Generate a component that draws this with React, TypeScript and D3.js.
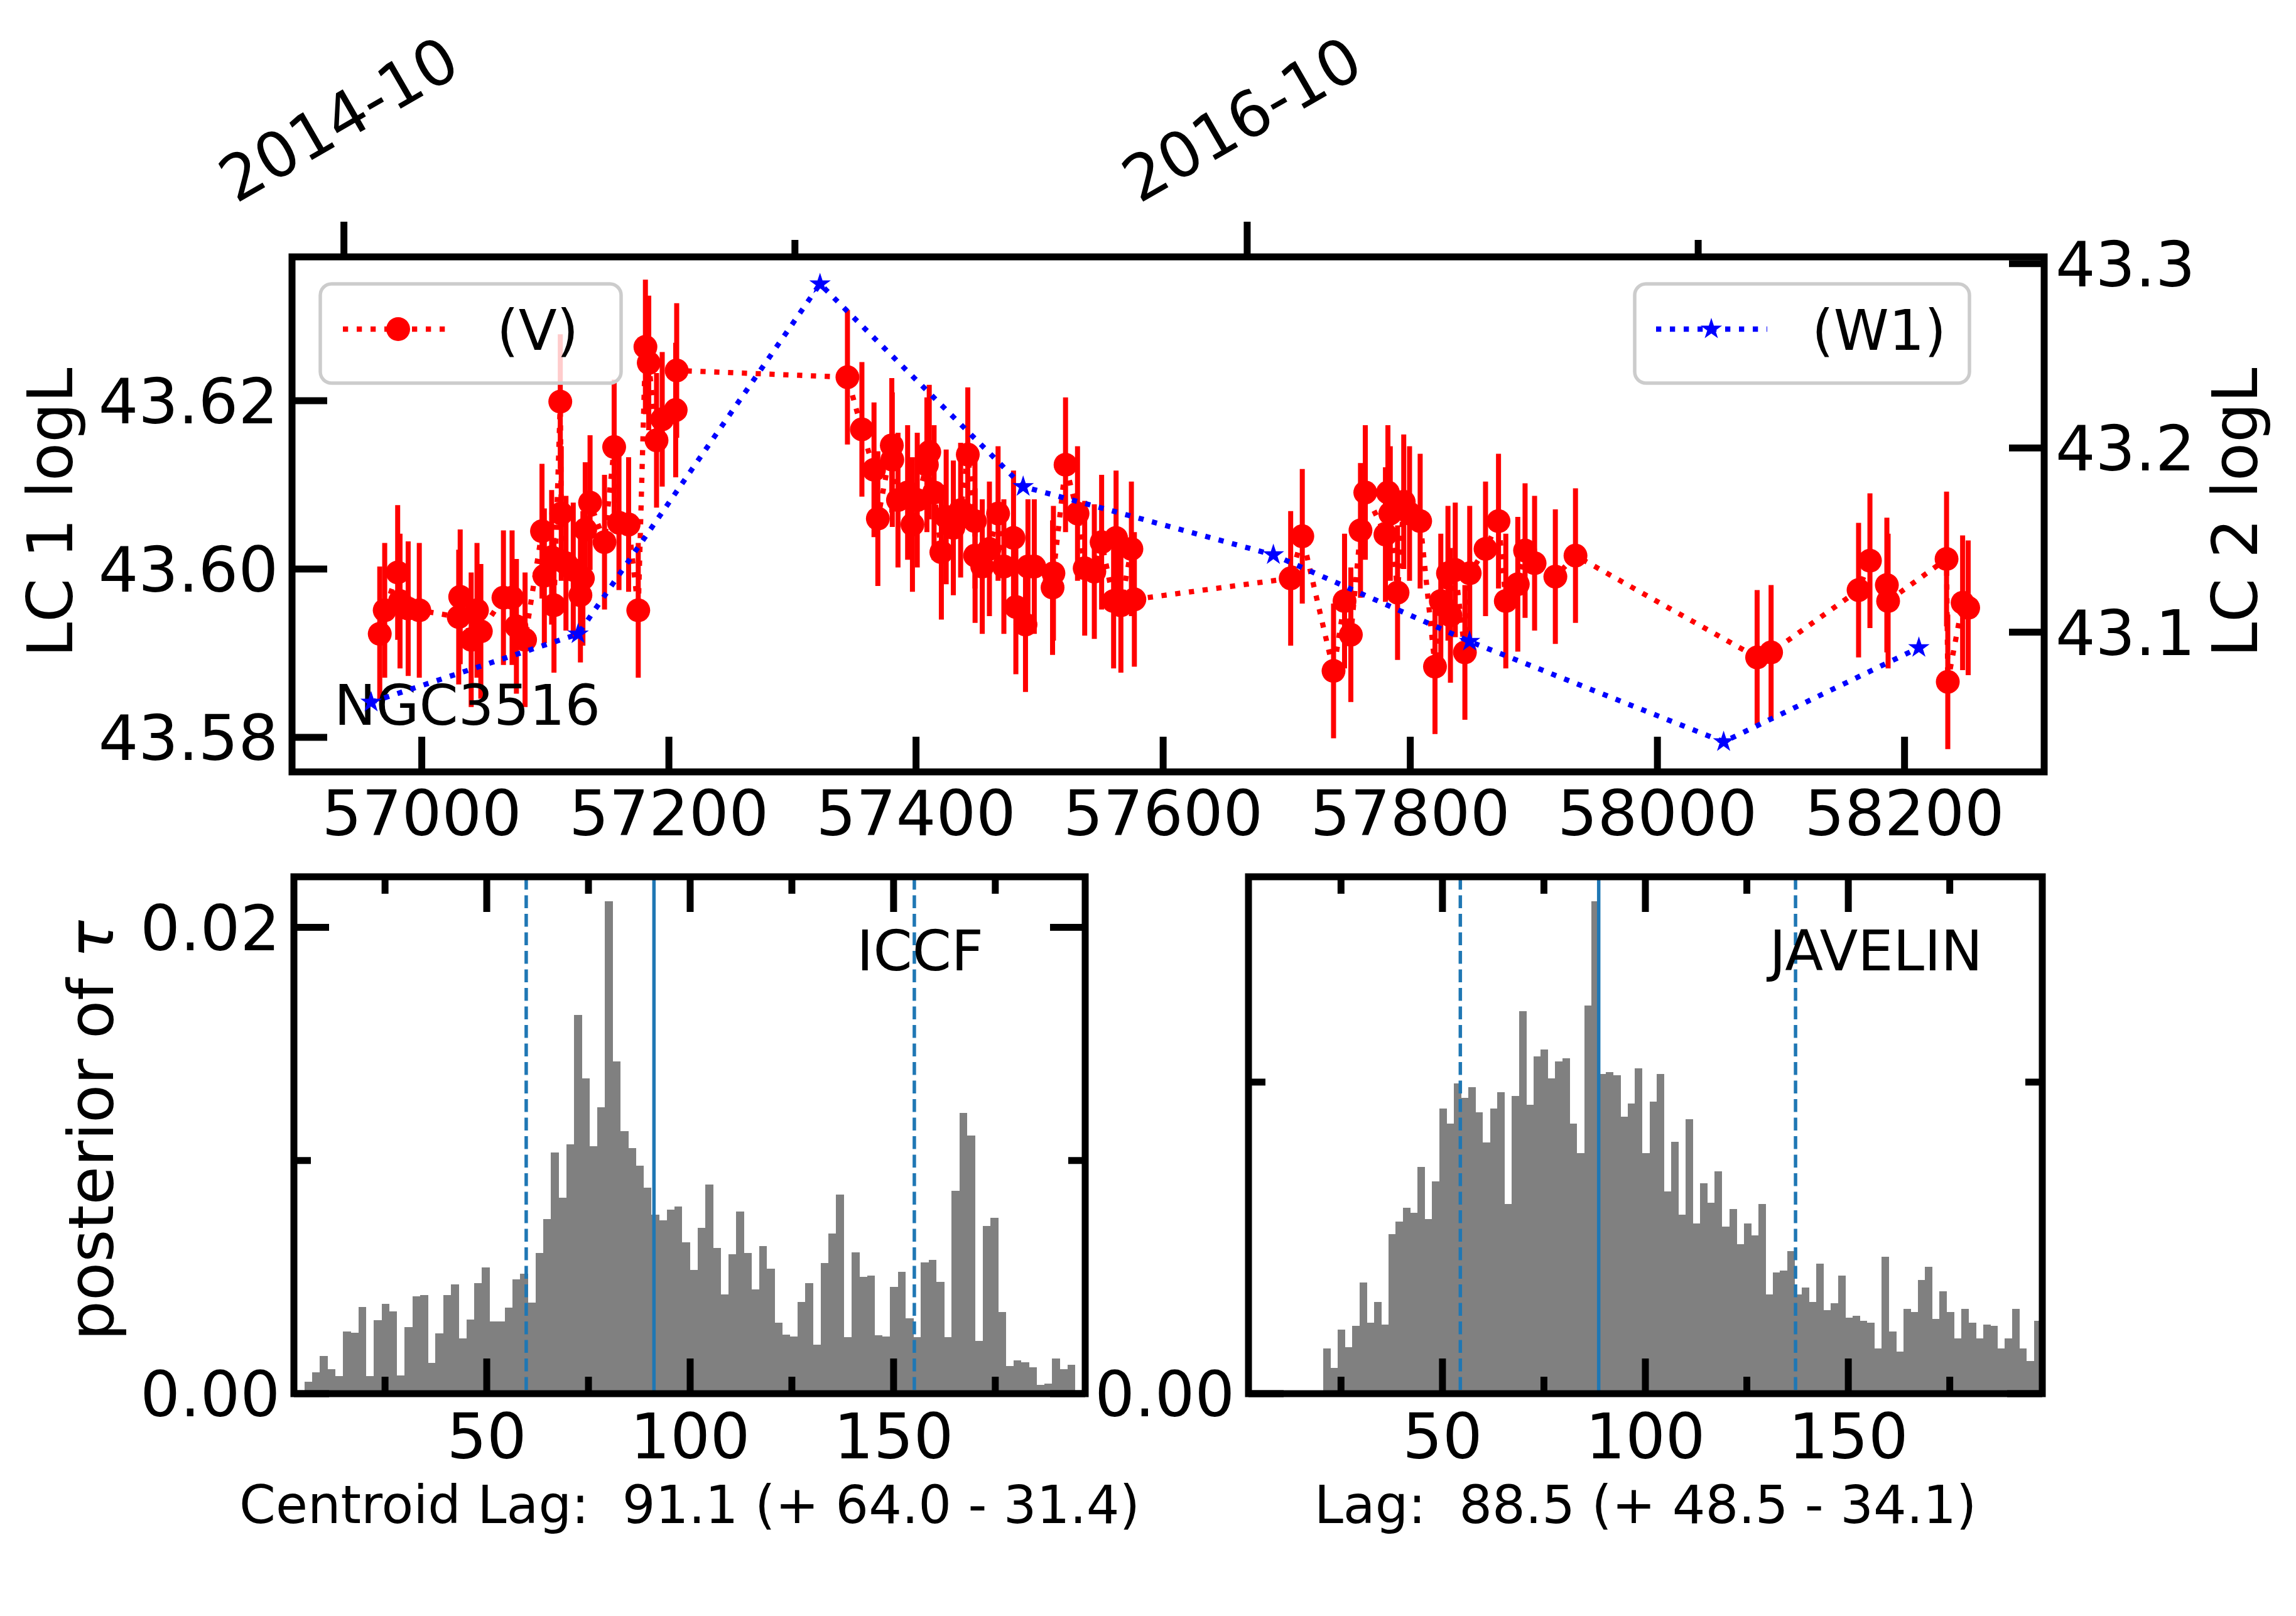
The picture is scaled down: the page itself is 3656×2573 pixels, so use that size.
import { useEffect } from "react";
import * as d3 from "d3";

const W = 3656;
const H = 2573;
const FONT = "'DejaVu Sans', 'Liberation Sans', sans-serif";
const RED = "#ff0000";
const BLUE = "#0000ff";
const LAG_BLUE = "#1f77b4";
const BAR_GREY = "#808080";

// LC 1 (V band): [MJD, logL, error]
const vBand: [number, number, number][] = [
  [56966.0, 43.5923, 0.008], [56970.0, 43.5951, 0.008], [56980.5, 43.5996, 0.008],
  [56982.4, 43.5962, 0.008], [56989.0, 43.5953, 0.008], [56998.0, 43.5951, 0.008],
  [57029.9, 43.5943, 0.008], [57031.1, 43.5967, 0.008], [57040.0, 43.5916, 0.008],
  [57044.7, 43.5951, 0.008], [57047.8, 43.5926, 0.008], [57066.1, 43.5966, 0.008],
  [57073.1, 43.5966, 0.008], [57076.6, 43.5932, 0.008], [57083.6, 43.5916, 0.008],
  [57097.3, 43.6045, 0.008], [57099.2, 43.5992, 0.008], [57105.1, 43.6014, 0.008],
  [57107.0, 43.5957, 0.008], [57112.1, 43.6199, 0.008], [57112.9, 43.6066, 0.008],
  [57116.7, 43.6007, 0.008], [57122.6, 43.5999, 0.008], [57128.4, 43.5969, 0.008],
  [57130.4, 43.5989, 0.008], [57132.3, 43.6047, 0.008], [57136.2, 43.6079, 0.008],
  [57147.9, 43.6032, 0.008], [57155.7, 43.6145, 0.008], [57159.6, 43.6055, 0.008],
  [57167.4, 43.6053, 0.008], [57175.2, 43.5951, 0.008], [57181.0, 43.6264, 0.008],
  [57183.7, 43.6245, 0.008], [57190.0, 43.6153, 0.008], [57194.6, 43.6178, 0.008],
  [57205.5, 43.6189, 0.008], [57206.3, 43.6236, 0.008], [57344.5, 43.6228, 0.008],
  [57356.2, 43.6166, 0.008], [57366.0, 43.6118, 0.008], [57369.1, 43.6060, 0.008],
  [57380.4, 43.6147, 0.008], [57380.8, 43.6130, 0.008], [57385.4, 43.6082, 0.008],
  [57393.2, 43.6091, 0.008], [57397.1, 43.6053, 0.008], [57401.0, 43.6082, 0.008],
  [57408.8, 43.6124, 0.008], [57410.7, 43.6139, 0.008], [57414.6, 43.6091, 0.008],
  [57420.5, 43.6020, 0.008], [57424.4, 43.6062, 0.008], [57430.2, 43.6049, 0.008],
  [57436.1, 43.6070, 0.008], [57441.9, 43.6136, 0.008], [57447.7, 43.6057, 0.008],
  [57447.8, 43.6016, 0.008], [57453.6, 43.6003, 0.008], [57459.4, 43.6024, 0.008],
  [57466.4, 43.6066, 0.008], [57471.1, 43.6003, 0.008], [57478.9, 43.6037, 0.008],
  [57480.8, 43.5955, 0.008], [57488.6, 43.5934, 0.008], [57490.6, 43.6003, 0.008],
  [57495.7, 43.6003, 0.008], [57510.5, 43.5978, 0.008], [57511.2, 43.5995, 0.008],
  [57521.0, 43.6124, 0.008], [57530.7, 43.6066, 0.008], [57536.5, 43.6001, 0.008],
  [57544.3, 43.5997, 0.008], [57550.2, 43.6032, 0.008], [57559.9, 43.5962, 0.008],
  [57561.9, 43.6037, 0.008], [57565.8, 43.5957, 0.008], [57574.3, 43.6024, 0.008],
  [57576.7, 43.5964, 0.008], [57703.2, 43.5989, 0.008], [57712.6, 43.6039, 0.008],
  [57737.9, 43.5879, 0.008], [57746.8, 43.5962, 0.008], [57751.9, 43.5922, 0.008],
  [57759.7, 43.6046, 0.008], [57763.6, 43.6091, 0.008], [57779.9, 43.6041, 0.008],
  [57781.9, 43.6091, 0.008], [57783.8, 43.6066, 0.008], [57789.7, 43.5972, 0.008],
  [57794.7, 43.6080, 0.008], [57799.4, 43.6066, 0.008], [57808.0, 43.6057, 0.008],
  [57820.0, 43.5884, 0.008], [57824.7, 43.5962, 0.008], [57830.5, 43.5995, 0.008],
  [57832.5, 43.5945, 0.008], [57836.4, 43.5999, 0.008], [57844.2, 43.5901, 0.008],
  [57848.1, 43.5995, 0.008], [57860.9, 43.6024, 0.008], [57871.4, 43.6057, 0.008],
  [57877.3, 43.5962, 0.008], [57887.0, 43.5982, 0.008], [57892.9, 43.6022, 0.008],
  [57900.6, 43.6007, 0.008], [57917.4, 43.5991, 0.008], [57933.7, 43.6016, 0.008],
  [58080.7, 43.5895, 0.008], [58092.0, 43.5901, 0.008], [58162.8, 43.5975, 0.008],
  [58172.0, 43.6010, 0.008], [58185.7, 43.5981, 0.008], [58186.7, 43.5962, 0.008],
  [58234.0, 43.6012, 0.008], [58235.0, 43.5866, 0.008], [58247.0, 43.5960, 0.008],
  [58251.5, 43.5954, 0.008],
];

// LC 2 (W1): [MJD, logL]
const w1Band: [number, number][] = [
  [56959.0, 43.062], [57126.5, 43.099], [57322.3, 43.289], [57486.7, 43.179],
  [57689.2, 43.142], [57848.0, 43.095], [58053.6, 43.0405], [58211.6, 43.0916],
];

const mjdTicks = [57000, 57200, 57400, 57600, 57800, 58000, 58200];
const lc1Ticks = [43.58, 43.6, 43.62];
const lc2Ticks = [43.1, 43.2, 43.3];
const dateMajorTicks = ["2014-10", "2016-10"];
const dateMinorTicks = ["2015-10", "2017-10"];

// lag posteriors: left edge of first bin, bin width
const iccfBins = [5.2, 1.894];
const iccfDensity = [
  0.00051, 0.00092, 0.00162, 0.00105, 0.00076, 0.00268, 0.00262, 0.00372, 0.00076, 0.00315,
  0.00385, 0.00353, 0.00079, 0.00285, 0.00418, 0.00424, 0.00132, 0.00259, 0.00424, 0.0047,
  0.00237, 0.00318, 0.00474, 0.00542, 0.0031, 0.0031, 0.00369, 0.0049, 0.00514, 0.0039,
  0.00604, 0.0075, 0.01034, 0.00841, 0.0107, 0.01624, 0.01353, 0.01061, 0.01229, 0.02112,
  0.01425, 0.01126, 0.01053, 0.00978, 0.00884, 0.00768, 0.00744, 0.00789, 0.00803, 0.00649,
  0.0053, 0.00711, 0.00898, 0.00624, 0.00425, 0.00598, 0.0078, 0.00603, 0.00447, 0.00634,
  0.00535, 0.00304, 0.00252, 0.00246, 0.00392, 0.00473, 0.0021, 0.00559, 0.00686, 0.00855,
  0.00243, 0.00605, 0.00501, 0.00506, 0.0025, 0.00245, 0.00458, 0.00522, 0.00324, 0.00243,
  0.00562, 0.00575, 0.0048, 0.00243, 0.00869, 0.01203, 0.01106, 0.00227, 0.00718, 0.00755,
  0.0035, 0.00119, 0.00142, 0.00134, 0.00112, 0.00038, 0.00044, 0.00152, 0.00105, 0.00123,
];
const javelinBins = [20.6, 1.787];
const javelinDensity = [
  0.00145, 0.00083, 0.00206, 0.0015, 0.00218, 0.00357, 0.00227, 0.00294, 0.00222, 0.00513,
  0.00553, 0.00597, 0.00581, 0.00727, 0.0056, 0.00682, 0.00916, 0.00866, 0.00995, 0.0095,
  0.00983, 0.00904, 0.00806, 0.00916, 0.00967, 0.00609, 0.00955, 0.01228, 0.00928, 0.01083,
  0.01105, 0.01012, 0.01067, 0.01077, 0.00866, 0.00772, 0.01246, 0.01581, 0.01027, 0.01032,
  0.01023, 0.00888, 0.00932, 0.01044, 0.00772, 0.00938, 0.01027, 0.00649, 0.00808, 0.00575,
  0.00881, 0.00546, 0.00676, 0.00613, 0.00714, 0.00537, 0.00592, 0.0048, 0.00546, 0.00508,
  0.00609, 0.00318, 0.0039, 0.00395, 0.00458, 0.00318, 0.00341, 0.00294, 0.00418, 0.00269,
  0.00291, 0.00379, 0.00244, 0.0025, 0.00234, 0.00227, 0.00145, 0.00439, 0.002, 0.00135,
  0.00273, 0.00262, 0.00364, 0.00408, 0.0024, 0.00329, 0.00262, 0.00178, 0.00273, 0.00227,
  0.00178, 0.00222, 0.00218, 0.00145, 0.00178, 0.00273, 0.00145, 0.00105, 0.00234,
];
const iccfLag = [91.1, 64.0, 31.4]; // lag, +err, -err
const javelinLag = [88.5, 48.5, 34.1];
const lagMajorTicks = [50, 100, 150];
const lagMinorTicks = [25, 75, 125, 175];
const densityMajorTicks = [0, 0.02];
const densityMinorTicks = [0.01];

// layout
const lcBox = { left: 465, right: 3255, top: 409, bottom: 1229 };
const iccfBox = { left: 468, right: 1728, top: 1396, bottom: 2219 };
const javBox = { left: 1988, right: 3252, top: 1396, bottom: 2219 };
const mjdLim = [56895, 58313];
const lc1Lim = [43.5759, 43.6371];
const lc2Lim = [43.0242, 43.3037];
const DATE_SHIFT = 6; // days; top date axis sits slightly off the MJD axis

const LW = 11;
const MAJ = 56;
const MIN = 27;
const TICK_FS = 100;
const DOT = "8.3 13.7";
const STAR = d3.symbol(d3.symbolStar, 18 * 18 / 0.8908)() as string;

const mjdToDate = (m: number) => new Date(Date.UTC(1858, 10, 17) + m * 864e5);
const monthDate = (s: string) => {
  const [y, m] = s.split("-").map(Number);
  return new Date(Date.UTC(y, m - 1, 1));
};

function LightCurves() {
  const x = d3.scaleLinear().domain(mjdLim).range([lcBox.left, lcBox.right]);
  const y1 = d3.scaleLinear().domain(lc1Lim).range([lcBox.bottom, lcBox.top]);
  const y2 = d3.scaleLinear().domain(lc2Lim).range([lcBox.bottom, lcBox.top]);
  const xDate = d3
    .scaleUtc()
    .domain([mjdToDate(mjdLim[0] - DATE_SHIFT), mjdToDate(mjdLim[1] - DATE_SHIFT)])
    .range([lcBox.left, lcBox.right]);

  const line1 = d3.line<[number, number, number]>().x((d) => x(d[0])).y((d) => y1(d[1]));
  const line2 = d3.line<[number, number]>().x((d) => x(d[0])).y((d) => y2(d[1]));

  return (
    <g>
      <defs>
        <clipPath id="lc-clip">
          <rect x={lcBox.left} y={lcBox.top} width={lcBox.right - lcBox.left} height={lcBox.bottom - lcBox.top} />
        </clipPath>
      </defs>

      {/* LC 1 */}
      <g clipPath="url(#lc-clip)">
        {vBand.map((d, i) => (
          <line key={`eb-${i}`} x1={x(d[0])} x2={x(d[0])} y1={y1(d[1] - d[2])} y2={y1(d[1] + d[2])}
            stroke={RED} strokeWidth={8} />
        ))}
        <path d={line1(vBand) ?? ""} fill="none" stroke={RED} strokeWidth={8.3} strokeDasharray={DOT} />
        {vBand.map((d, i) => (
          <circle key={`pt-${i}`} cx={x(d[0])} cy={y1(d[1])} r={19} fill={RED} />
        ))}
      </g>
      <text x={532} y={1154} fontSize={89}>NGC3516</text>

      {/* LC 1 legend */}
      <rect x={510} y={452} width={479} height={158} rx={18} fill="rgba(255,255,255,0.8)" stroke="#cccccc" strokeWidth={5.5} />
      <line x1={546} x2={722} y1={524} y2={524} stroke={RED} strokeWidth={8.3} strokeDasharray={DOT} />
      <circle cx={634} cy={524} r={19} fill={RED} />
      <text x={791} y={557} fontSize={89}>(V)</text>

      {/* LC 2 */}
      <g clipPath="url(#lc-clip)">
        <path d={line2(w1Band) ?? ""} fill="none" stroke={BLUE} strokeWidth={8.3} strokeDasharray={DOT} />
        {w1Band.map((d, i) => (
          <path key={`st-${i}`} d={STAR} transform={`translate(${x(d[0])},${y2(d[1])})`} fill={BLUE} />
        ))}
      </g>
      <rect x={2603} y={452} width={533} height={158} rx={18} fill="rgba(255,255,255,0.8)" stroke="#cccccc" strokeWidth={5.5} />
      <line x1={2637} x2={2814} y1={524} y2={524} stroke={BLUE} strokeWidth={8.3} strokeDasharray={DOT} />
      <path d={STAR} transform="translate(2725,524)" fill={BLUE} />
      <text x={2885} y={557} fontSize={89}>(W1)</text>

      {/* frame */}
      <rect x={lcBox.left} y={lcBox.top} width={lcBox.right - lcBox.left} height={lcBox.bottom - lcBox.top}
        fill="none" stroke="#000" strokeWidth={LW} />

      {/* bottom MJD axis */}
      {mjdTicks.map((t) => (
        <g key={`mx-${t}`}>
          <line x1={x(t)} x2={x(t)} y1={lcBox.bottom} y2={lcBox.bottom - MAJ} stroke="#000" strokeWidth={LW} />
          <text x={x(t)} y={1330} fontSize={TICK_FS} textAnchor="middle">{t}</text>
        </g>
      ))}
      {/* left axis */}
      {lc1Ticks.map((t) => (
        <g key={`l1-${t}`}>
          <line x1={lcBox.left} x2={lcBox.left + MAJ} y1={y1(t)} y2={y1(t)} stroke="#000" strokeWidth={LW} />
          <text x={lcBox.left - 22} y={y1(t) + 36} fontSize={TICK_FS} textAnchor="end">{t.toFixed(2)}</text>
        </g>
      ))}
      {/* right axis */}
      {lc2Ticks.map((t) => (
        <g key={`l2-${t}`}>
          <line x1={lcBox.right} x2={lcBox.right - MAJ} y1={y2(t)} y2={y2(t)} stroke="#000" strokeWidth={LW} />
          <text x={lcBox.right + 18} y={y2(t) + 36} fontSize={TICK_FS}>{t.toFixed(1)}</text>
        </g>
      ))}
      {/* top date axis */}
      {dateMajorTicks.map((s) => {
        const tx = xDate(monthDate(s));
        return (
          <g key={`dm-${s}`}>
            <line x1={tx} x2={tx} y1={lcBox.top} y2={lcBox.top - MAJ} stroke="#000" strokeWidth={LW} />
            <text transform={`translate(${tx - 9},189) rotate(-30)`} fontSize={TICK_FS} textAnchor="middle" dy="0.36em">
              {s}
            </text>
          </g>
        );
      })}
      {dateMinorTicks.map((s) => {
        const tx = xDate(monthDate(s));
        return <line key={`dn-${s}`} x1={tx} x2={tx} y1={lcBox.top} y2={lcBox.top - MIN} stroke="#000" strokeWidth={LW} />;
      })}

      <text transform="translate(115,816) rotate(-90)" fontSize={100} textAnchor="middle">LC 1 logL</text>
      <text transform="translate(3594,816) rotate(-90)" fontSize={100} textAnchor="middle">LC 2 logL</text>
    </g>
  );
}

interface HistProps {
  id: string;
  box: { left: number; right: number; top: number; bottom: number };
  xLim: number[];
  yLim: number[];
  bins: number[];
  density: number[];
  lag: number[];
  label: string;
  labelX: number;
  caption: string;
  yTitle?: boolean;
}

function LagHistogram({ id, box, xLim, yLim, bins, density, lag, label, labelX, caption, yTitle }: HistProps) {
  const xs = d3.scaleLinear().domain(xLim).range([box.left, box.right]);
  const ys = d3.scaleLinear().domain(yLim).range([box.bottom, box.top]);
  const [start, width] = bins;
  const inY = (v: number) => v >= yLim[0] && v <= yLim[1];
  const lagLines = [lag[0] - lag[2], lag[0], lag[0] + lag[1]];
  const cx = (box.left + box.right) / 2;

  return (
    <g>
      <defs>
        <clipPath id={`clip-${id}`}>
          <rect x={box.left} y={box.top} width={box.right - box.left} height={box.bottom - box.top} />
        </clipPath>
      </defs>
      <g clipPath={`url(#clip-${id})`}>
        {density.map((v, i) => {
          const x0 = xs(start + i * width);
          const x1 = xs(start + (i + 1) * width);
          return (
            <rect key={i} x={x0} width={x1 - x0 + 0.4} y={ys(v)} height={ys(0) - ys(v)}
              fill={BAR_GREY} shapeRendering="crispEdges" />
          );
        })}
        {lagLines.map((l, i) => (
          <line key={`lag-${i}`} x1={xs(l)} x2={xs(l)} y1={box.top} y2={box.bottom}
            stroke={LAG_BLUE} strokeWidth={5.5} strokeDasharray={i === 1 ? undefined : "20.6 8.9"} />
        ))}
      </g>
      <text x={labelX} y={1545} fontSize={89} textAnchor="end">{label}</text>

      <rect x={box.left} y={box.top} width={box.right - box.left} height={box.bottom - box.top}
        fill="none" stroke="#000" strokeWidth={LW} />

      {lagMajorTicks.map((t) => (
        <g key={`xM-${t}`}>
          <line x1={xs(t)} x2={xs(t)} y1={box.bottom} y2={box.bottom - MAJ} stroke="#000" strokeWidth={LW} />
          <line x1={xs(t)} x2={xs(t)} y1={box.top} y2={box.top + MAJ} stroke="#000" strokeWidth={LW} />
          <text x={xs(t)} y={2322} fontSize={TICK_FS} textAnchor="middle">{t}</text>
        </g>
      ))}
      {lagMinorTicks.map((t) => (
        <g key={`xm-${t}`}>
          <line x1={xs(t)} x2={xs(t)} y1={box.bottom} y2={box.bottom - MIN} stroke="#000" strokeWidth={LW} />
          <line x1={xs(t)} x2={xs(t)} y1={box.top} y2={box.top + MIN} stroke="#000" strokeWidth={LW} />
        </g>
      ))}
      {densityMajorTicks.filter(inY).map((t) => (
        <g key={`yM-${t}`}>
          <line x1={box.left} x2={box.left + MAJ} y1={ys(t)} y2={ys(t)} stroke="#000" strokeWidth={LW} />
          <line x1={box.right} x2={box.right - MAJ} y1={ys(t)} y2={ys(t)} stroke="#000" strokeWidth={LW} />
          <text x={box.left - 22} y={ys(t) + 36} fontSize={TICK_FS} textAnchor="end">{t.toFixed(2)}</text>
        </g>
      ))}
      {densityMinorTicks.filter(inY).map((t) => (
        <g key={`ym-${t}`}>
          <line x1={box.left} x2={box.left + MIN} y1={ys(t)} y2={ys(t)} stroke="#000" strokeWidth={LW} />
          <line x1={box.right} x2={box.right - MIN} y1={ys(t)} y2={ys(t)} stroke="#000" strokeWidth={LW} />
        </g>
      ))}

      <text x={cx} y={2425} fontSize={83} textAnchor="middle" style={{ whiteSpace: "pre" }}>{caption}</text>
      {yTitle && (
        <text transform={`translate(180,1800) rotate(-90)`} fontSize={100} textAnchor="middle">
          posterior of <tspan fontStyle="italic">τ</tspan>
        </text>
      )}
    </g>
  );
}

const lagText = (l: number[]) => `${l[0].toFixed(1)} (+ ${l[1].toFixed(1)} - ${l[2].toFixed(1)})`;

export default function App() {
  useEffect(() => {
    document.body.style.margin = "0";
    document.body.style.overflow = "hidden";
  }, []);

  return (
    <svg width={W} height={H} viewBox={`0 0 ${W} ${H}`} fontFamily={FONT}
      style={{ position: "absolute", left: 0, top: 0, display: "block" }}>
      <rect width={W} height={H} fill="#fff" />
      <LightCurves />
      <LagHistogram id="iccf" box={iccfBox} xLim={[2.6, 197.1]} yLim={[0, 0.02217]} bins={iccfBins}
        density={iccfDensity} lag={iccfLag} label="ICCF" labelX={1566}
        caption={`Centroid Lag:  ${lagText(iccfLag)}`} yTitle />
      <LagHistogram id="jav" box={javBox} xLim={[2.2, 197.8]} yLim={[0, 0.01659]} bins={javelinBins}
        density={javelinDensity} lag={javelinLag} label="JAVELIN" labelX={3157}
        caption={`Lag:  ${lagText(javelinLag)}`} />
    </svg>
  );
}
